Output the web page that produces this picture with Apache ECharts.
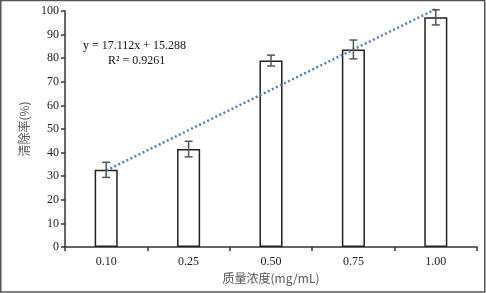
<!DOCTYPE html>
<html>
<head>
<meta charset="utf-8">
<script src="https://cdn.jsdelivr.net/npm/echarts@6/dist/echarts.min.js"></script>
<style>
html,body{margin:0;padding:0;background:#fff;}
#c{width:486px;height:293px;}
</style>
</head>
<body>
<div id="c"></div>
<script>
const categories = ['0.10', '0.25', '0.50', '0.75', '1.00'];
const values = [32.7, 41.5, 79.0, 83.7, 97.3];
const errors = [3.2, 3.3, 2.3, 4.0, 3.2];
const trendValues = [32.4, 49.5, 66.6, 83.7, 100.8];
const yTicks = [0, 10, 20, 30, 40, 50, 60, 70, 80, 90, 100];
const equationText = 'y = 17.112x + 15.288';
const r2Text = 'R² = 0.9261';

const serif = 'Liberation Serif';
const cjk = 'Noto Sans CJK SC';

const chart = echarts.init(document.getElementById('c'), null, {renderer: 'canvas'});
chart.setOption({
  animation: false,
  backgroundColor: '#fff',
  textStyle: {fontFamily: serif},
  grid: {left: 65, right: 9, top: 11, bottom: 46},
  graphic: [
    {type: 'rect', shape: {x: 0.75, y: 0.5, width: 484, height: 291.5},
     style: {fill: 'none', stroke: '#555', lineWidth: 1.5}, z: 100},
    {type: 'text', left: 83, top: 40, style: {text: equationText, fontFamily: serif, fontSize: 12, fill: '#111'}},
    {type: 'text', left: 108, top: 55, style: {text: r2Text, fontFamily: serif, fontSize: 12, fill: '#111'}}
  ],
  xAxis: {
    type: 'category',
    data: categories,
    name: '质量浓度(mg/mL)',
    nameLocation: 'middle',
    nameGap: 24,
    nameTextStyle: {fontFamily: cjk, fontSize: 12, color: '#555'},
    axisLine: {lineStyle: {color: '#333', width: 1.5}},
    axisTick: {show: true, length: 4, inside: false, lineStyle: {color: '#333', width: 1.5}},
    axisLabel: {fontFamily: serif, fontSize: 12, color: '#222', margin: 9}
  },
  yAxis: {
    type: 'value',
    min: 0, max: 100, interval: 10,
    name: '清除率(%)',
    nameLocation: 'middle',
    nameGap: 34,
    nameRotate: 90,
    nameTextStyle: {fontFamily: cjk, fontSize: 12, color: '#555'},
    axisLine: {show: true, lineStyle: {color: '#333', width: 1.5}},
    axisTick: {show: true, length: 4, lineStyle: {color: '#333', width: 1.5}},
    axisLabel: {fontFamily: serif, fontSize: 12, color: '#222', margin: 6,
      formatter: v => yTicks.includes(v) ? String(v) : ''},
    splitLine: {show: false}
  },
  series: [
    {
      type: 'bar',
      data: values,
      barWidth: '28%',
      itemStyle: {color: '#fff', borderColor: '#222', borderWidth: 1.5},
      z: 2
    },
    {
      type: 'custom',
      z: 5,
      renderItem: function (params, api) {
        const i = api.value(0);
        const v = api.value(1);
        const e = api.value(2);
        const top = api.coord([i, v + e]);
        const bot = api.coord([i, v - e]);
        const hw = 4;
        const st = {stroke: '#555', lineWidth: 1.5};
        return {type: 'group', children: [
          {type: 'line', shape: {x1: top[0], y1: top[1], x2: bot[0], y2: bot[1]}, style: st},
          {type: 'line', shape: {x1: top[0]-hw, y1: top[1], x2: top[0]+hw, y2: top[1]}, style: st},
          {type: 'line', shape: {x1: bot[0]-hw, y1: bot[1], x2: bot[0]+hw, y2: bot[1]}, style: st}
        ]};
      },
      data: values.map((v, i) => [i, v, errors[i]])
    },
    {
      type: 'line',
      data: trendValues,
      clip: false,
      symbol: 'none',
      z: 4,
      lineStyle: {color: '#4f81bd', width: 2.5, type: [2, 2.5]}
    }
  ]
});
</script>
</body>
</html>
